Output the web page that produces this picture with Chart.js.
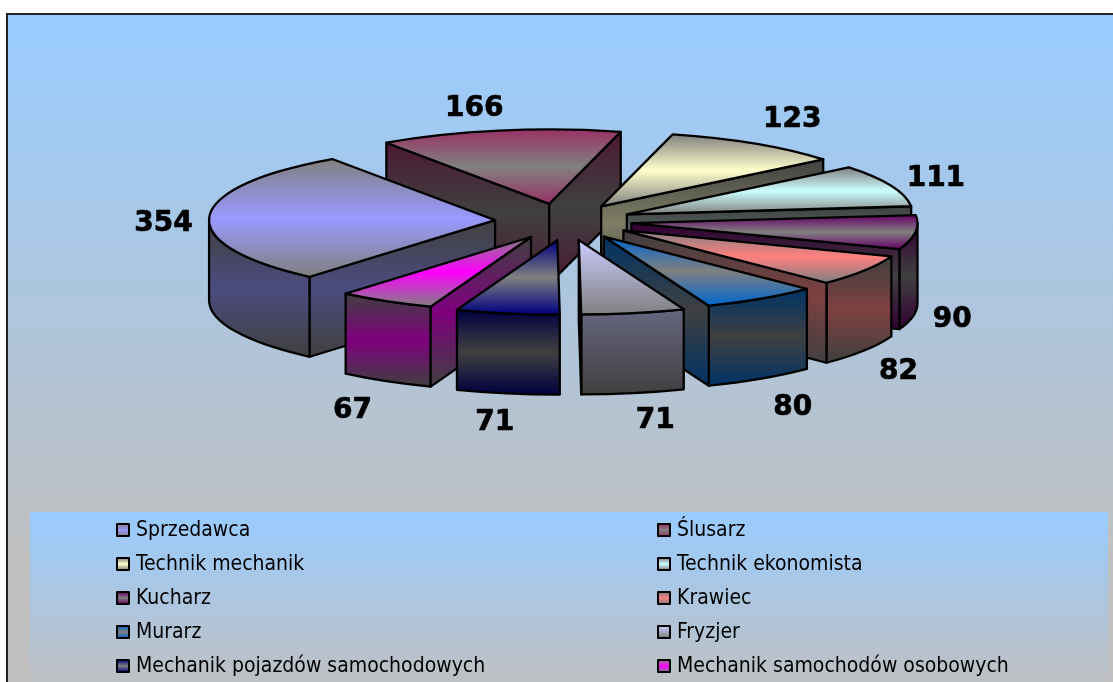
<!DOCTYPE html>
<html lang="pl">
<head>
<meta charset="utf-8">
<title>Zawody</title>
<script src="https://cdn.jsdelivr.net/npm/chart.js@4"></script>
<style>
  html, body { margin: 0; padding: 0; background: #fff; overflow: hidden; }
  canvas { display: block; }
</style>
</head>
<body>
<canvas id="chart" width="1113" height="682"></canvas>
<script>
// Data
const professions = ['Sprzedawca', 'Ślusarz', 'Technik mechanik', 'Technik ekonomista', 'Kucharz',
  'Krawiec', 'Murarz', 'Fryzjer', 'Mechanik pojazdów samochodowych', 'Mechanik samochodów osobowych'];
const counts = [354, 166, 123, 111, 90, 82, 80, 71, 71, 67];

// Slice colours and how the grey runs through each gradient
const sliceColors = ['#9999ff', '#993366', '#ffffcc', '#ccffff', '#660066',
  '#ff8080', '#0066cc', '#ccccff', '#000080', '#ff00ff'];
const gradientKinds = ['mid', 'edge', 'mid', 'mid', 'edge', 'mid', 'edge', 'fade', 'edge', 'mid'];

// Fake 3D settings
const ROTATION = 220.4;   // degrees
const RADIUS = 286;
const SQUASH = 0.26;      // vertical flattening of the pie
const DEPTH = 80;         // wall height
const EXPLODE = 67;
const CENTER_X = 565;
const CENTER_Y = 221;
const FONT_LABEL = 'bold 28px "DejaVu Sans"';
const FONT_LEGEND = '21px "DejaVu Sans Condensed", "DejaVu Sans"';

// Label position relative to the outer edge of the slice's bisector
const labelNudges = [[-50, 7], [-29, -22], [37, -24], [46, -7], [38, 87],
  [37, 101], [34, 110], [23, 110], [-9, 112], [-34, 111]];
// The original has some perspective, small per-slice corrections for it
const perspectiveShifts = [[-3, 0], [-4, 0], [0, 0], [0, 0], [0, 0],
  [2, 0], [2, 1], [1, 2], [4, 2], [0, 1]];

function halfColor(hex) {
  const n = parseInt(hex.slice(1), 16);
  return `rgb(${(n >> 16) >> 1}, ${((n >> 8) & 255) >> 1}, ${(n & 255) >> 1})`;
}

function makeGradient(ctx, y0, y1, i, dark) {
  const color = dark ? halfColor(sliceColors[i]) : sliceColors[i];
  const grey = dark ? '#404040' : '#808080';
  const g = ctx.createLinearGradient(0, y0, 0, y1);
  const kind = gradientKinds[i];
  if (kind === 'mid') {
    g.addColorStop(0, grey); g.addColorStop(0.5, color); g.addColorStop(1, grey);
  } else if (kind === 'edge') {
    g.addColorStop(0, color); g.addColorStop(0.5, grey); g.addColorStop(1, color);
  } else {
    g.addColorStop(0, color); g.addColorStop(1, grey);
  }
  return g;
}

// start/end canvas angle of a slice, same sums the pie controller does
function sliceAngles(i) {
  const total = counts.reduce((a, b) => a + b, 0);
  const before = counts.slice(0, i).reduce((a, b) => a + b, 0);
  const start = (ROTATION - 90) * Math.PI / 180;
  return [start + before / total * 2 * Math.PI, start + (before + counts[i]) / total * 2 * Math.PI];
}

// sin range over a slice, apex included
function sinRange(a0, a1) {
  let lo = Math.min(0, Math.sin(a0), Math.sin(a1));
  let hi = Math.max(0, Math.sin(a0), Math.sin(a1));
  for (let k = 0; k < 4; k++) {
    const up = Math.PI / 2 + k * 2 * Math.PI;
    const down = 3 * Math.PI / 2 + k * 2 * Math.PI;
    if (a0 <= up && up <= a1) hi = 1;
    if (a0 <= down && down <= a1) lo = -1;
  }
  return [lo, hi];
}

function topFill(c) {
  const area = c.chart.chartArea;
  if (c.dataIndex === undefined || !area) return sliceColors[0];
  const [a0, a1] = sliceAngles(c.dataIndex);
  const [lo, hi] = sinRange(a0, a1);
  const cy = (area.top + area.bottom) / 2;
  return makeGradient(c.chart.ctx, cy + lo * RADIUS, cy + hi * RADIUS, c.dataIndex, false);
}

function strokeFace(ctx) {
  ctx.strokeStyle = '#000';
  ctx.lineWidth = 2.3;
  ctx.lineJoin = 'round';
  ctx.stroke();
}

function drawRadialFace(ctx, x, y, a, i) {
  const ex = x + RADIUS * Math.cos(a);
  const ey = y + SQUASH * RADIUS * Math.sin(a);
  ctx.beginPath();
  ctx.moveTo(x, y);
  ctx.lineTo(ex, ey);
  ctx.lineTo(ex, ey + DEPTH);
  ctx.lineTo(x, y + DEPTH);
  ctx.closePath();
  ctx.fillStyle = makeGradient(ctx, Math.min(y, ey), Math.max(y, ey) + DEPTH, i, true);
  ctx.fill();
  strokeFace(ctx);
}

function drawOuterWall(ctx, x, y, a0, a1, i) {
  for (let k = 0; k < 3; k++) {
    const s = Math.max(a0, k * 2 * Math.PI);
    const e = Math.min(a1, k * 2 * Math.PI + Math.PI);
    if (e <= s) continue;
    const ry = SQUASH * RADIUS;
    let lo = Math.min(Math.sin(s), Math.sin(e));
    let hi = Math.max(Math.sin(s), Math.sin(e));
    const down = k * 2 * Math.PI + Math.PI / 2;
    if (s <= down && down <= e) hi = 1;
    ctx.beginPath();
    ctx.ellipse(x, y, RADIUS, ry, 0, s, e);
    ctx.ellipse(x, y + DEPTH, RADIUS, ry, 0, e, s, true);
    ctx.closePath();
    ctx.fillStyle = makeGradient(ctx, y + lo * ry, y + hi * ry + DEPTH, i, true);
    ctx.fill();
    strokeFace(ctx);
  }
}

const pie3d = {
  id: 'pie3d',
  beforeDraw(chart) {
    const { ctx, width, height } = chart;
    ctx.save();
    ctx.fillStyle = '#fff';
    ctx.fillRect(0, 0, width, height);
    const bg = ctx.createLinearGradient(0, 14, 0, 560);
    bg.addColorStop(0, '#99ccff');
    bg.addColorStop(1, '#c0c0c0');
    ctx.fillStyle = bg;
    ctx.fillRect(7, 14, width, height);
    ctx.strokeStyle = '#222';
    ctx.lineWidth = 2;
    ctx.strokeRect(7, 14, width + 20, height + 20);
    ctx.restore();
  },
  beforeDatasetDraw(chart) {
    const ctx = chart.ctx;
    const arcs = chart.getDatasetMeta(0).data;
    // back slices first so the front ones paint over them
    const order = arcs.map((arc, i) => i).sort((p, q) => {
      const mp = (arcs[p].startAngle + arcs[p].endAngle) / 2;
      const mq = (arcs[q].startAngle + arcs[q].endAngle) / 2;
      return Math.sin(mp) - Math.sin(mq);
    });
    order.forEach(i => {
      const arc = arcs[i];
      const a0 = arc.startAngle;
      const a1 = arc.endAngle;
      const mid = (a0 + a1) / 2;
      const x = CENTER_X + Math.cos(mid) * EXPLODE + perspectiveShifts[i][0];
      const y = CENTER_Y + Math.sin(mid) * EXPLODE * SQUASH + perspectiveShifts[i][1];

      drawOuterWall(ctx, x, y, a0, a1, i);
      if (Math.sin(a0 - Math.PI / 2) > 0) drawRadialFace(ctx, x, y, a0, i);
      if (Math.sin(a1 + Math.PI / 2) > 0) drawRadialFace(ctx, x, y, a1, i);

      // the top is the library's own arc, flattened
      ctx.save();
      ctx.translate(x, y);
      ctx.scale(1, SQUASH);
      ctx.translate(-arc.x, -arc.y);
      arc.draw(ctx);
      ctx.restore();

      ctx.beginPath();
      ctx.moveTo(x, y);
      ctx.ellipse(x, y, RADIUS, RADIUS * SQUASH, 0, a0, a1);
      ctx.closePath();
      strokeFace(ctx);
    });
    return false;
  },
  afterDatasetsDraw(chart) {
    const ctx = chart.ctx;
    const arcs = chart.getDatasetMeta(0).data;
    ctx.save();
    ctx.fillStyle = '#000';
    ctx.strokeStyle = '#000';
    ctx.lineWidth = 0.7;
    ctx.font = FONT_LABEL;
    ctx.textAlign = 'center';
    ctx.textBaseline = 'middle';
    arcs.forEach((arc, i) => {
      const mid = (arc.startAngle + arc.endAngle) / 2;
      const x = CENTER_X + Math.cos(mid) * 352 + labelNudges[i][0];
      const y = CENTER_Y + Math.sin(mid) * 352 * SQUASH + labelNudges[i][1];
      ctx.fillText(counts[i], x, y);
      ctx.strokeText(counts[i], x, y);
    });
    ctx.restore();

    // legend, filled row by row in two columns
    ctx.save();
    const lg = ctx.createLinearGradient(0, 512, 0, 690);
    lg.addColorStop(0, '#99ccff');
    lg.addColorStop(1, '#c0c0c0');
    ctx.fillStyle = lg;
    ctx.fillRect(30, 512, 1078, 170);
    ctx.font = FONT_LEGEND;
    ctx.textBaseline = 'middle';
    professions.forEach((name, i) => {
      const col = i % 2;
      const row = Math.floor(i / 2);
      const bx = col ? 658 : 117;
      const by = 524 + row * 34;
      ctx.fillStyle = makeGradient(ctx, by, by + 12, i, false);
      ctx.fillRect(bx, by, 12, 12);
      ctx.strokeStyle = '#000';
      ctx.lineWidth = 2;
      ctx.strokeRect(bx, by, 12, 12);
      ctx.fillStyle = '#000';
      ctx.fillText(name, bx + 19, by + 7);
    });
    ctx.restore();
  }
};

new Chart(document.getElementById('chart'), {
  type: 'pie',
  data: {
    labels: professions,
    datasets: [{
      data: counts,
      backgroundColor: topFill,
      borderWidth: 0
    }]
  },
  options: {
    responsive: false,
    animation: false,
    radius: RADIUS,
    rotation: ROTATION,
    plugins: {
      legend: { display: false },
      tooltip: { enabled: false }
    }
  },
  plugins: [pie3d]
});
</script>
</body>
</html>
